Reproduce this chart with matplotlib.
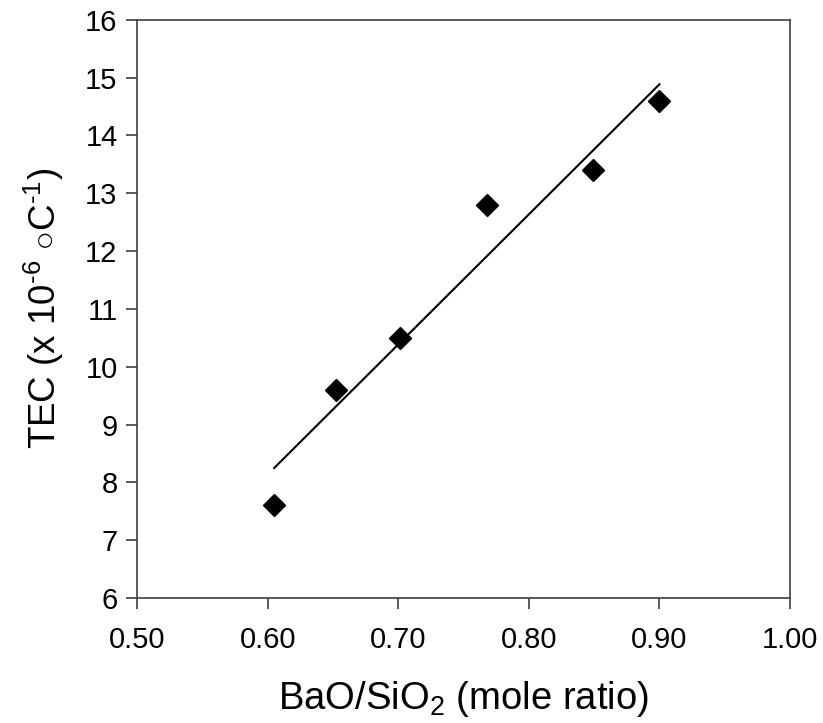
import matplotlib
matplotlib.use("Agg")
import matplotlib.pyplot as plt
import numpy as np

plt.rcParams['font.family'] = ['Liberation Sans', 'DejaVu Sans']
plt.rcParams['mathtext.fontset'] = 'custom'
plt.rcParams['mathtext.rm'] = 'Liberation Sans'
plt.rcParams['mathtext.it'] = 'Liberation Sans:italic'
plt.rcParams['mathtext.bf'] = 'Liberation Sans:bold'

# BaO/SiO2 mole ratio vs thermal expansion coefficient
bao_sio2 = [0.605, 0.652, 0.701, 0.768, 0.849, 0.900]
tec = [7.6, 9.6, 10.5, 12.8, 13.4, 14.6]

x_ticks = [0.50, 0.60, 0.70, 0.80, 0.90, 1.00]
y_ticks = list(range(6, 17))

fig = plt.figure(figsize=(8.23, 7.23), dpi=100)
ax = fig.add_axes([0.1665, 0.173, 0.7935, 0.7995])

# linear trend line over the data range
slope, intercept = np.polyfit(bao_sio2, tec, 1)
xs = np.array([min(bao_sio2), max(bao_sio2)])
ax.plot(xs, slope * xs + intercept, color='black', lw=1.5, zorder=2)

ax.plot(bao_sio2, tec, linestyle='none', marker='D', markersize=11,
        color='black', zorder=3)

ax.set_xlim(0.5, 1.0)
ax.set_ylim(6, 16)
ax.set_xticks(x_ticks)
ax.set_xticklabels([f"{v:.2f}" for v in x_ticks])
ax.set_yticks(y_ticks)

for s in ax.spines.values():
    s.set_color('#404040')
    s.set_linewidth(1.2)
ax.tick_params(direction='out', length=8, width=1.2, color='#404040',
               labelsize=21, pad=6)
ax.tick_params(axis='x', pad=12)

ax.set_xlabel('BaO/SiO$_2$ (mole ratio)', fontsize=27.5, labelpad=18)
ax.set_ylabel(r'TEC (x 10$^{\text{-6}}$ $\circ$C$^{\text{-1}}$)', fontsize=26.5, labelpad=14)

fig.savefig('out.png', dpi=100)
